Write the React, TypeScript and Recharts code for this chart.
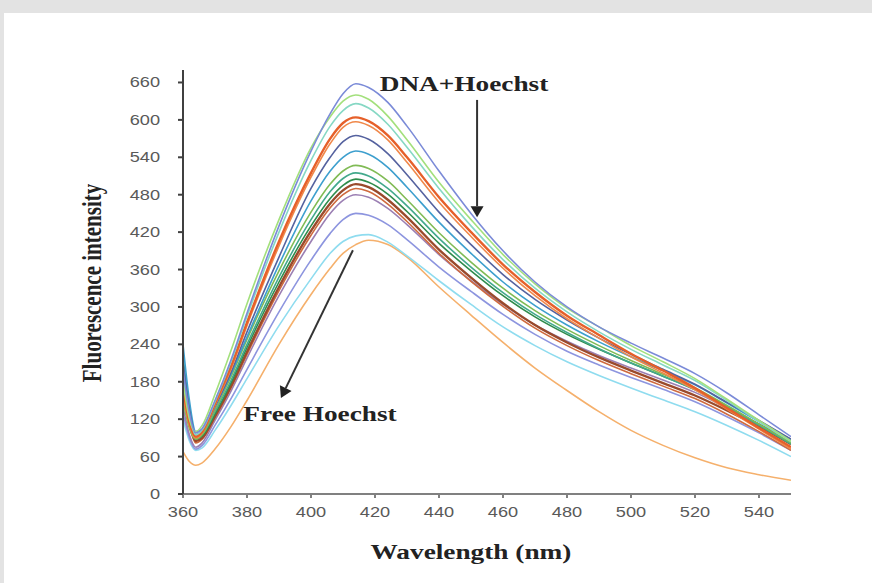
import React from "react";
import { LineChart, Line, XAxis, YAxis, ReferenceLine } from "recharts";

const WAVELENGTH = [360, 362, 364, 366, 370, 375, 380, 390, 400, 406, 410, 414, 418, 424, 430, 440, 450, 460, 470, 480, 490, 500, 510, 520, 530, 540, 550];

const X_TICKS = [360, 380, 400, 420, 440, 460, 480, 500, 520, 540];
const Y_TICKS = [0, 60, 120, 180, 240, 300, 360, 420, 480, 540, 600, 660];

// one array per titration step
const S1 = [200, 130, 98, 105, 150, 215, 290, 430, 550, 610, 642, 658, 652, 628, 590, 518, 450, 390, 340, 300, 268, 242, 218, 193, 162, 127, 92];
const S2 = [180, 120, 100, 110, 160, 230, 305, 440, 555, 605, 630, 640, 633, 606, 568, 500, 440, 384, 337, 298, 268, 238, 212, 185, 152, 118, 85];
const S3 = [190, 125, 95, 103, 148, 212, 285, 420, 535, 590, 615, 626, 619, 593, 556, 490, 430, 376, 330, 292, 260, 232, 207, 182, 150, 116, 84];
const S4 = [170, 115, 92, 100, 145, 205, 275, 405, 515, 570, 595, 604, 598, 575, 540, 476, 420, 368, 324, 286, 255, 225, 198, 170, 138, 106, 75];
const S5 = [160, 110, 90, 98, 142, 200, 270, 398, 508, 562, 588, 597, 591, 568, 532, 468, 413, 362, 318, 281, 250, 220, 194, 167, 136, 104, 72];
const S6 = [210, 135, 95, 100, 140, 195, 260, 380, 490, 540, 565, 575, 569, 546, 512, 452, 400, 352, 312, 279, 250, 224, 200, 176, 147, 118, 88];
const S7 = [240, 150, 100, 103, 140, 192, 252, 368, 470, 518, 540, 550, 545, 524, 492, 436, 386, 340, 302, 271, 244, 220, 198, 175, 146, 116, 86];
const S8 = [150, 105, 88, 95, 135, 188, 248, 358, 452, 497, 518, 527, 522, 502, 472, 419, 372, 330, 294, 264, 238, 214, 192, 170, 142, 112, 82];
const S9 = [220, 140, 92, 96, 132, 182, 240, 348, 440, 485, 506, 515, 510, 490, 462, 410, 364, 323, 288, 259, 233, 210, 189, 167, 140, 110, 80];
const S10 = [175, 115, 88, 93, 128, 178, 235, 340, 430, 474, 495, 505, 500, 481, 453, 402, 358, 318, 284, 256, 232, 210, 189, 168, 141, 112, 82];
const S11 = [190, 120, 85, 90, 125, 173, 228, 332, 422, 466, 487, 497, 492, 472, 444, 392, 347, 306, 271, 243, 219, 198, 178, 158, 134, 108, 80];
const S12 = [165, 110, 82, 88, 122, 170, 224, 326, 415, 459, 480, 490, 485, 465, 437, 386, 341, 301, 266, 238, 214, 193, 173, 153, 128, 100, 70];
const S13 = [140, 95, 75, 82, 118, 165, 218, 318, 405, 450, 471, 480, 476, 458, 432, 384, 342, 304, 271, 245, 222, 202, 183, 163, 138, 112, 88];
const S14 = [130, 90, 72, 78, 110, 153, 200, 292, 375, 418, 440, 450, 447, 432, 408, 364, 325, 288, 256, 229, 207, 187, 168, 148, 124, 98, 70];
const S15 = [120, 85, 70, 74, 102, 142, 185, 270, 345, 386, 405, 414, 416, 404, 382, 342, 304, 268, 238, 212, 190, 170, 151, 132, 110, 86, 60];
const S16 = [68, 52, 46, 50, 72, 108, 150, 240, 320, 362, 386, 400, 407, 400, 380, 332, 287, 243, 202, 166, 132, 102, 78, 58, 42, 31, 22];

const SERIES = [
  { key: "s16", values: S16, color: "#f5b06c" },
  { key: "s15", values: S15, color: "#8fdcef" },
  { key: "s14", values: S14, color: "#8d95df" },
  { key: "s13", values: S13, color: "#9b7fb3" },
  { key: "s12", values: S12, color: "#cf6a3e" },
  { key: "s11", values: S11, color: "#9a4a2c" },
  { key: "s10", values: S10, color: "#2f8c4c" },
  { key: "s9", values: S9, color: "#43a98c" },
  { key: "s8", values: S8, color: "#80bb55" },
  { key: "s7", values: S7, color: "#3d9fce" },
  { key: "s6", values: S6, color: "#55629f" },
  { key: "s5", values: S5, color: "#f0884a" },
  { key: "s4", values: S4, color: "#e6602a" },
  { key: "s3", values: S3, color: "#86d8c4" },
  { key: "s2", values: S2, color: "#a3e07c" },
  { key: "s1", values: S1, color: "#7b8bd8" },
];

const data = WAVELENGTH.map((w, i) => {
  const row: Record<string, number> = { w };
  SERIES.forEach((s) => (row[s.key] = s.values[i]));
  return row;
});

const TICK_FONT = "'Liberation Sans', Arial, sans-serif";
const TITLE_FONT = "'Liberation Serif', 'Times New Roman', serif";

function XTick({ x, y, payload }: any) {
  return (
    <text
      transform={`translate(${x},${y + 15}) scale(1.3,1)`}
      textAnchor="middle"
      fontSize={14}
      fontFamily={TICK_FONT}
      fill="#595959"
    >
      {payload.value}
    </text>
  );
}

function YTick({ x, y, payload }: any) {
  return (
    <text
      transform={`translate(${x},${y + 5}) scale(1.3,1)`}
      textAnchor="end"
      fontSize={14}
      fontFamily={TICK_FONT}
      fill="#595959"
    >
      {payload.value}
    </text>
  );
}

function Arrow(props: any) {
  const { x1, y1, x2, y2 } = props;
  const dx = x2 - x1;
  const dy = y2 - y1;
  const len = Math.hypot(dx, dy) || 1;
  const ux = dx / len;
  const uy = dy / len;
  const hl = 11;
  const hw = 6.5;
  const bx = x2 - ux * hl;
  const by = y2 - uy * hl;
  return (
    <g>
      <line x1={x1} y1={y1} x2={bx} y2={by} stroke="#333" strokeWidth={2} />
      <polygon
        points={`${x2},${y2} ${bx - uy * hw},${by + ux * hw} ${bx + uy * hw},${by - ux * hw}`}
        fill="#222"
      />
    </g>
  );
}

function Title({ x, y, text, rotate }: { x: number; y: number; text: string; rotate?: boolean }) {
  return (
    <text
      transform={`translate(${x},${y}) scale(1.3,1)${rotate ? " rotate(-90)" : ""}`}
      textAnchor="middle"
      dy="0.35em"
      fontSize={21}
      fontWeight="bold"
      fontFamily={TITLE_FONT}
      fill="#222"
    >
      {text}
    </text>
  );
}

export default function App() {
  return (
    <div style={{ position: "relative", width: 872, height: 583, background: "#e3e3e3", overflow: "hidden" }}>
      <style>{"body{margin:0}"}</style>
      <div style={{ position: "absolute", left: 4, top: 13, width: 868, height: 570, background: "#ffffff" }} />
      <div style={{ position: "absolute", left: 0, top: 0 }}>
        <LineChart width={872} height={583} data={data} margin={{ top: 70, right: 81, bottom: 59, left: 123 }}>
          <XAxis
            dataKey="w"
            type="number"
            domain={[360, 550]}
            ticks={X_TICKS}
            tick={<XTick />}
            tickSize={4}
            tickMargin={4}
            height={30}
            stroke="#808080"
            strokeWidth={2}
            allowDataOverflow
          />
          <YAxis
            type="number"
            domain={[0, 680]}
            ticks={Y_TICKS}
            tick={<YTick />}
            tickSize={5}
            tickMargin={18}
            width={60}
            stroke="#404040"
            strokeWidth={2}
            allowDataOverflow
          />
          {SERIES.map((s) => (
            <Line
              key={s.key}
              dataKey={s.key}
              type="monotone"
              stroke={s.color}
              strokeWidth={s.key === "s4" || s.key === "s11" ? 2.4 : 1.6}
              dot={false}
              activeDot={false}
              isAnimationActive={false}
            />
          ))}
          <ReferenceLine segment={[{ x: 451.9, y: 632 }, { x: 451.9, y: 444 }]} shape={<Arrow />} />
          <ReferenceLine segment={[{ x: 413.1, y: 391 }, { x: 390.6, y: 154 }]} shape={<Arrow />} />
        </LineChart>
      </div>
      <svg width={872} height={583} style={{ position: "absolute", left: 0, top: 0, pointerEvents: "none" }}>
        <Title x={464} y={84} text="DNA+Hoechst" />
        <Title x={320} y={414} text="Free Hoechst" />
        <Title x={471} y={552} text="Wavelength (nm)" />
        <Title x={91} y={283} text="Fluorescence intensity" rotate />
      </svg>
    </div>
  );
}
